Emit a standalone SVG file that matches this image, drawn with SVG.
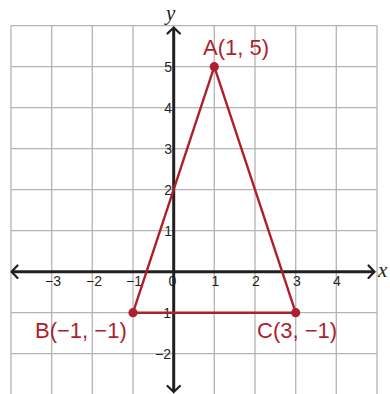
<svg xmlns="http://www.w3.org/2000/svg" width="390" height="394" viewBox="0 0 390 394">
  <style>
    .grid { stroke: #b4b4b4; stroke-width: 1.3; fill: none; }
    .axis { stroke: #231f20; stroke-width: 3; fill: none; }
    .arrow { stroke: #231f20; stroke-width: 2.2; fill: none; stroke-linecap: round; stroke-linejoin: round; }
    .tick { font-family: "Liberation Sans", Arial, sans-serif; font-size: 14px; fill: #231f20; }
    .tx { text-anchor: middle; }
    .ty { text-anchor: end; }
    .axlbl { font-family: "Liberation Serif", "Times New Roman", serif; font-style: italic; font-size: 21px; fill: #231f20; }
    .edge { stroke: #ae1f2d; stroke-width: 2.4; fill: none; stroke-linejoin: round; }
    .pt { fill: #ae1f2d; }
    .lbl { font-family: "Liberation Sans", Arial, sans-serif; font-size: 22px; fill: #ae1f2d; }
  </style>
  <rect width="390" height="394" fill="#ffffff"/>
  <g id="grid" class="grid">
    <path d="M11 25.7V394 M51.7 25.7V394 M92.3 25.7V394 M133 25.7V394 M173.7 25.7V394 M214.3 25.7V394 M255 25.7V394 M295.7 25.7V394 M336.3 25.7V394 M377 25.7V394"/>
    <path d="M11 25.7H377 M11 66.7H377 M11 107.7H377 M11 148.7H377 M11 189.7H377 M11 230.7H377 M11 271.7H377 M11 312.7H377 M11 353.7H377"/>
  </g>
  <g id="axes">
    <path class="axis" d="M12 271.7H374"/>
    <path class="axis" d="M173.7 28V391"/>
    <path class="arrow" d="M17.5 265.5L11.5 271.7L17.5 277.9"/>
    <path class="arrow" d="M368.5 265.5L374.5 271.7L368.5 277.9"/>
    <path class="arrow" d="M167.5 33.5L173.7 27.5L179.9 33.5"/>
    <path class="arrow" d="M167.5 386L173.7 392L179.9 386"/>
    <text class="axlbl" x="378" y="277">x</text>
    <text class="axlbl" x="166" y="19.5">y</text>
  </g>
  <g id="ticks" class="tick">
    <text class="tx" x="53" y="286">−3</text>
    <text class="tx" x="94" y="286">−2</text>
    <text class="tx" x="134" y="286">−1</text>
    <text class="tx" x="172.5" y="286">0</text>
    <text class="tx" x="215.5" y="286">1</text>
    <text class="tx" x="256" y="286">2</text>
    <text class="tx" x="297" y="286">3</text>
    <text class="tx" x="337" y="286">4</text>
    <text class="ty" x="172" y="72">5</text>
    <text class="ty" x="172" y="113">4</text>
    <text class="ty" x="172" y="154">3</text>
    <text class="ty" x="172" y="195">2</text>
    <text class="ty" x="172" y="236">1</text>
    <text class="ty" x="171" y="318">−1</text>
    <text class="ty" x="171" y="359">−2</text>
  </g>
  <g id="connectors">
    <path class="edge" d="M214.3 66.7L133 312.7"/>
    <path class="edge" d="M214.3 66.7L295.7 312.7"/>
    <path class="edge" d="M133 312.7H295.7"/>
  </g>
  <g id="A">
    <circle class="pt" cx="214.3" cy="66.7" r="4.6"/>
    <text class="lbl" x="203" y="55">A(1, 5)</text>
  </g>
  <g id="B">
    <circle class="pt" cx="133" cy="312.7" r="4.6"/>
    <text class="lbl" x="35" y="338">B(−1, −1)</text>
  </g>
  <g id="C">
    <circle class="pt" cx="295.7" cy="312.7" r="4.6"/>
    <text class="lbl" x="257" y="338">C(3, −1)</text>
  </g>
</svg>
